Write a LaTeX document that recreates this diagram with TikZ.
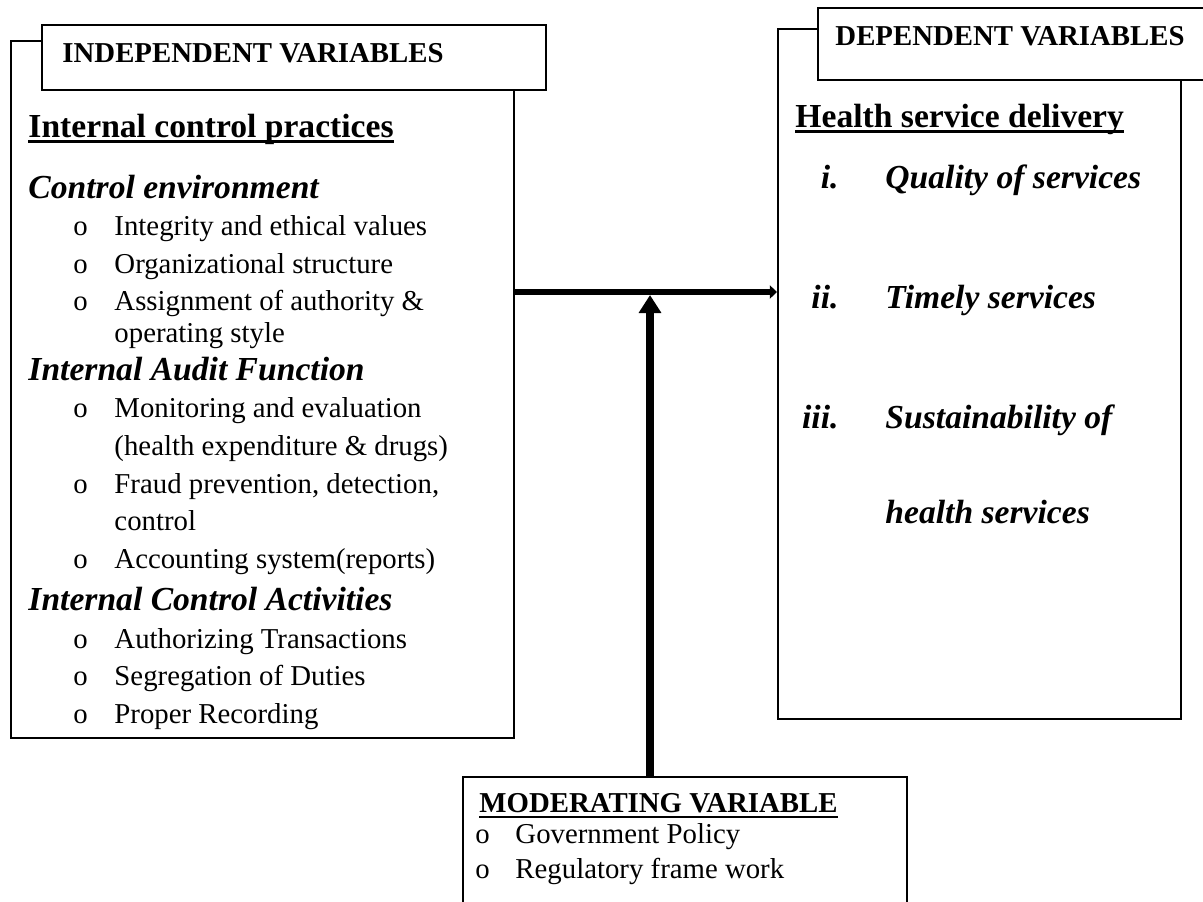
\documentclass[tikz,border=0pt]{standalone}
\usepackage{fontspec}
\setmainfont{Liberation Serif}
\usepackage{tikz}
\usetikzlibrary{positioning}
\usetikzlibrary{arrows.meta}
\tikzstyle{varbox}=[rectangle,draw,line width=0.8pt,fill=white,inner sep=0pt,anchor=north west]
\tikzstyle{itemtext}=[anchor=base west,inner sep=0pt,font=\fontsize{12}{14}\selectfont]
\tikzstyle{subhead}=[anchor=base west,inner sep=0pt,font=\fontsize{14}{17}\selectfont\bfseries\itshape]
\tikzstyle{titletext}=[anchor=base west,inner sep=0pt,font=\fontsize{14}{17}\selectfont\bfseries]
\tikzstyle{capshead}=[anchor=base west,inner sep=0pt,font=\fontsize{12}{14}\selectfont\bfseries]
\tikzstyle{flow}=[draw,line width=2.5pt,-{Triangle[width=5.5pt,length=3pt]}]
\tikzstyle{modflow}=[draw,line width=3pt,-{Triangle[width=9pt,length=7.5pt]}]
\newcommand{\ulined}[2][1pt]{\setbox0\hbox{#2}\rlap{\rule[-2.4pt]{\wd0}{#1}}\box0}

\begin{document}
\begin{tikzpicture}[x=0.4167pt,y=-0.4167pt]

  \def\u{0.4167pt}
  \useasboundingbox (0,0) rectangle (1203,901);

  % boxes
  \node[varbox,minimum width=503*\u,minimum height=697*\u] (indep) at (10,40) {};
  \node[varbox,minimum width=403*\u,minimum height=690*\u] (dep) at (777,28) {};
  \node[varbox,minimum width=444*\u,minimum height=150*\u] (mod) at (462,776) {};
  \node[varbox,minimum width=504*\u,minimum height=65*\u] (indepbox) at (41,24) {};
  \node[varbox,minimum width=420*\u,minimum height=72*\u] (depbox) at (817,7) {};

  \node[capshead] (indephd) at (62,62) {INDEPENDENT VARIABLES};
  \node[capshead] (dephd) at (835,45) {DEPENDENT VARIABLES};

  % independent side
  \node[titletext] (icp) at (28,137) {\ulined[1.1pt]{Internal control practices}};

  \foreach \y/\name/\label in {198/ce/Control environment, 380/iaf/Internal Audit Function, 610/ica/Internal Control Activities}
          \node[subhead] (\name) at (28,\y) {\label};

  \foreach \y/\name/\label in {235/ce1/Integrity and ethical values, 273/ce2/Organizational structure,
                               310/ce3/Assignment of authority \&, 417/iaf1/Monitoring and evaluation,
                               493/iaf2/{Fraud prevention, detection,}, 568/iaf3/Accounting system(reports),
                               648/ica1/Authorizing Transactions, 685/ica2/Segregation of Duties,
                               723/ica3/Proper Recording}
  {
          \node[itemtext] (b\name) at (73,\y) {o};
          \node[itemtext] (\name) at (114,\y) {\label};
  }

  \foreach \y/\name/\label in {342/ce3b/operating style, 455/iaf1b/{(health expenditure \& drugs)}, 530/iaf2b/control}
          \node[itemtext] (\name) at (114,\y) {\label};

  % dependent side
  \node[titletext] (hsd) at (795,127) {\ulined[1.1pt]{Health service delivery}};

  \foreach \y/\name/\num/\label in {188/qs/i./Quality of services, 308/ts/ii./Timely services, 428/ss/iii./Sustainability of}
  {
          \node[subhead,anchor=base east] (n\name) at (839,\y) {\num};
          \node[subhead] (\name) at (885,\y) {\label};
  }
  \node[subhead] (ssb) at (885,523) {health services};

  % moderating side
  \node[capshead] (modhd) at (479,812) {\ulined[0.9pt]{MODERATING VARIABLE}};
  \foreach \y/\name/\label in {843/gp/Government Policy, 878/rf/Regulatory frame work}
  {
          \node[itemtext] (b\name) at (475,\y) {o};
          \node[itemtext] (\name) at (515,\y) {\label};
  }

  % arrows
  \coordinate (j) at (650,292);
  \coordinate (jt) at (650,295);
  \path[flow] (j -| indep.east) -- (j -| dep.west);
  \path[modflow] (mod.north -| j) -- (jt);

\end{tikzpicture}
\end{document}
